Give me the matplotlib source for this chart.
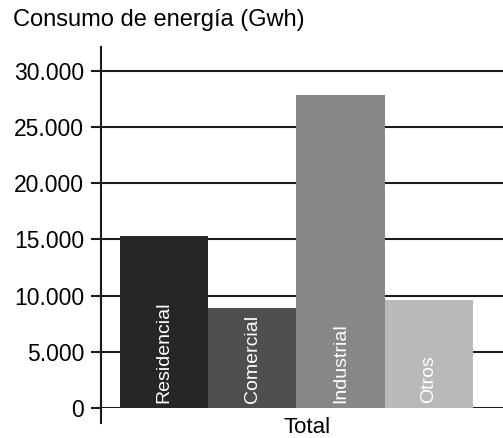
import matplotlib.pyplot as plt

plt.rcParams['font.family'] = ['Liberation Sans', 'DejaVu Sans']

# Datos
categorias = ['Residencial', 'Comercial', 'Industrial', 'Otros']
consumo = [15300, 8900, 27800, 9600]
colores = ['#262626', '#4f4f4f', '#878787', '#b9b9b9']
yticks = [0, 5000, 10000, 15000, 20000, 25000, 30000]
ytick_labels = ['0', '5.000', '10.000', '15.000', '20.000', '25.000', '30.000']

fig = plt.figure(figsize=(5.03, 4.38), dpi=100)
ax = fig.add_axes([101 / 503, 30 / 438, 402 / 503, 361 / 438])

x = list(range(len(categorias)))
ax.bar(x, consumo, width=1.0, color=colores, zorder=2)

for xi, nombre in zip(x, categorias):
    ax.text(xi, 450, nombre, rotation=90, ha='center', va='bottom',
            color='white', fontsize=14, zorder=3)

ax.set_xlim(-0.715, 3.84)
ax.set_ylim(0, 32100)
ax.set_yticks(yticks)
ax.set_yticklabels(ytick_labels, fontsize=16.5)
ax.yaxis.grid(True, color='#1a1a1a', linewidth=1.5, zorder=1)
ax.set_axisbelow(True)
ax.tick_params(axis='y', length=7, width=1.5, color='#1a1a1a', pad=5)

ax.set_xticks([1.62])
ax.set_xticklabels(['Total'], fontsize=16)
ax.tick_params(axis='x', length=0, pad=6.5)

for s in ['top', 'right', 'bottom']:
    ax.spines[s].set_visible(False)
ax.spines['left'].set_linewidth(1.5)
ax.spines['left'].set_color('#1a1a1a')
ax.spines['left'].set_bounds(-1350, 32100)

fig.text(13 / 503, 1 - 26 / 438, 'Consumo de energía (Gwh)', fontsize=17,
         ha='left', va='baseline')

fig.savefig('out.png', dpi=100)
